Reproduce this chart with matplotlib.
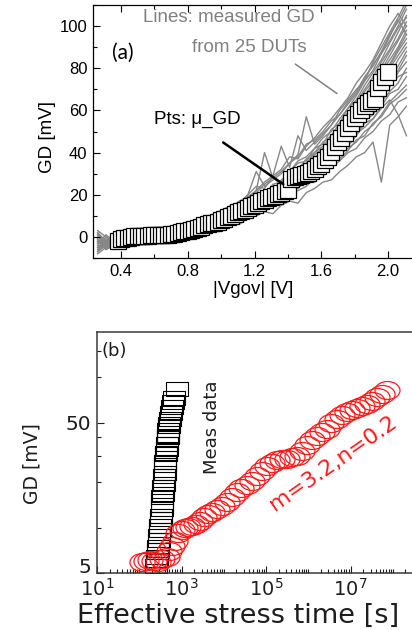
import numpy as np
import matplotlib
matplotlib.use("Agg")
import matplotlib.pyplot as plt
from matplotlib.path import Path
from matplotlib.transforms import Affine2D
from matplotlib.ticker import FixedLocator, MultipleLocator, NullFormatter, LogLocator

# ---- panel (a): GD vs |Vgov| ----
v_grid = [0.26, 0.31, 0.36, 0.41, 0.46, 0.51, 0.56, 0.61, 0.66, 0.71, 0.76, 0.81, 0.86,
          0.91, 0.96, 1.01, 1.06, 1.11, 1.16, 1.21, 1.26, 1.31, 1.36, 1.41, 1.46, 1.51,
          1.56, 1.61, 1.66, 1.71, 1.76, 1.81, 1.86, 1.91, 1.96, 2.01, 2.06, 2.11]

# measured GD of the 25 DUTs (mV), one row per device
dut_gd = [
    [-5, -2, -4, 0, -3, 1, -2, 2, -1, 3, 0, 2, 4, 2, 5, 4, 7, 6, 9, 10, 12, 11, 15, 17, 16, 21, 23, 26, 27, 31, 34, 38, 40, 45, 26, 53, 57, 62],
    [-1, -4, 0, -3, 2, -1, -3, 1, 3, 0, 2, 5, 1, 4, 6, 5, 8, 10, 9, 13, 12, 16, 18, 20, 22, 24, 28, 29, 33, 36, 40, 42, 47, 50, 55, 58, 64, 66],
    [-6, -3, -5, -1, -4, 0, 1, -2, 2, 0, 4, 1, 3, 6, 4, 8, 7, 10, 13, 11, 15, 17, 16, 22, 23, 27, 26, 31, 35, 37, 41, 46, 48, 54, 57, 63, 66, 70],
    [2, -2, -1, -4, 0, -2, 2, 0, -1, 3, 1, 4, 2, 5, 7, 6, 9, 8, 12, 14, 13, 18, 19, 21, 25, 26, 30, 33, 34, 39, 42, 45, 50, 53, 58, 64, 68, 72],
    [-3, 1, -2, -5, -1, 1, -1, 3, 0, 2, 5, 2, 6, 4, 5, 9, 8, 11, 10, 15, 16, 17, 21, 22, 26, 28, 30, 34, 37, 40, 44, 49, 52, 56, 61, 65, 58, 48],
    [-7, -4, -2, -6, -3, -1, 0, -3, 1, 2, 0, 3, 5, 3, 7, 6, 10, 9, 13, 12, 17, 16, 20, 24, 23, 28, 31, 33, 37, 42, 43, 48, 54, 56, 62, 68, 70, 76],
    [0, -3, 1, -1, -2, 2, -1, 1, 4, 1, 3, 2, 6, 5, 4, 8, 10, 9, 14, 13, 16, 19, 20, 23, 27, 29, 31, 36, 38, 41, 47, 49, 55, 58, 64, 69, 73, 80],
    [-4, -5, -3, 0, -2, -4, 1, 0, 2, -1, 4, 3, 2, 6, 8, 7, 8, 12, 11, 15, 17, 18, 22, 23, 28, 30, 32, 35, 39, 43, 46, 52, 55, 60, 65, 72, 76, 78],
    [3, 0, -2, -1, 1, -2, 0, 2, -1, 3, 2, 5, 3, 4, 7, 9, 8, 11, 13, 14, 18, 17, 22, 24, 26, 29, 33, 36, 38, 44, 47, 51, 57, 61, 66, 71, 78, 83],
    [-2, -6, -4, -2, -3, 0, -2, 1, 0, 2, 1, 3, 4, 7, 5, 8, 11, 10, 13, 16, 15, 20, 21, 25, 27, 31, 33, 37, 40, 45, 48, 54, 57, 63, 69, 73, 79, 86],
    [-8, -5, -3, -4, -1, -2, 1, -1, 3, 1, 0, 4, 5, 3, 6, 9, 8, 12, 11, 14, 17, 19, 21, 26, 28, 30, 35, 37, 42, 45, 50, 54, 59, 64, 70, 75, 81, 88],
    [1, -2, -1, -3, 0, -1, 2, 0, 1, 4, 2, 3, 6, 5, 8, 7, 10, 12, 13, 15, 18, 21, 22, 25, 29, 31, 34, 39, 41, 46, 51, 55, 61, 65, 71, 77, 84, 90],
    [-5, -3, -6, -2, -4, 0, -1, -2, 2, 1, 3, 2, 4, 6, 5, 9, 8, 11, 14, 13, 19, 20, 24, 25, 30, 32, 36, 40, 44, 47, 53, 57, 63, 67, 74, 80, 86, 92],
    [-1, -4, -2, 0, -3, -1, -2, 2, 0, 1, 3, 4, 3, 5, 8, 7, 10, 11, 15, 16, 17, 22, 23, 27, 29, 34, 36, 41, 43, 49, 53, 59, 63, 69, 75, 81, 88, 94],
    [-3, -1, -4, -2, 1, -3, 0, -1, 1, 3, 2, 4, 6, 4, 7, 9, 11, 10, 14, 17, 18, 21, 25, 27, 31, 33, 38, 40, 46, 49, 55, 59, 66, 70, 77, 82, 89, 96],
    [2, -3, 0, -5, -2, 0, -1, 1, -1, 2, 4, 3, 5, 7, 6, 8, 10, 13, 12, 16, 19, 21, 24, 28, 30, 35, 37, 42, 45, 51, 55, 61, 66, 72, 78, 84, 90, 98],
    [-6, -2, -3, -1, -4, -2, 1, 0, 2, 0, 3, 5, 4, 6, 9, 8, 11, 12, 15, 17, 19, 23, 24, 29, 32, 34, 39, 42, 47, 50, 57, 62, 67, 73, 79, 86, 93, 100],
    [-2, -5, -1, -3, 0, -2, 0, 2, 1, 3, 1, 4, 5, 8, 7, 10, 9, 13, 16, 15, 20, 22, 26, 28, 33, 35, 40, 43, 48, 52, 58, 63, 69, 74, 81, 88, 94, 102],
    [-4, 0, -3, -2, -1, 1, -2, 0, 3, 2, 4, 3, 6, 5, 9, 8, 12, 14, 13, 18, 21, 22, 27, 30, 32, 37, 40, 45, 48, 54, 59, 64, 70, 76, 83, 89, 97, 105],
    [-7, -3, -5, -1, -2, -3, 0, 1, 0, 2, 3, 5, 4, 7, 8, 11, 10, 14, 15, 19, 20, 25, 26, 31, 35, 36, 42, 44, 51, 54, 61, 65, 72, 78, 84, 92, 99, 104],
    [-3, -1, -2, 0, -1, 1, 3, 2, 1, 4, 3, 6, 5, 8, 10, 9, 14, 17, 16, 22, 40, 28, 25, 31, 36, 38, 42, 47, 50, 56, 61, 67, 74, 79, 87, 93, 100, 108],
    [-2, -4, 0, -2, 1, -1, 2, 0, 3, 2, 5, 4, 7, 6, 10, 12, 11, 16, 20, 31, 24, 27, 30, 35, 38, 44, 46, 50, 55, 58, 64, 69, 76, 81, 88, 96, 102, 110],
    [1, -3, -1, 2, -2, 0, 1, 3, 2, 5, 4, 6, 8, 7, 11, 13, 15, 14, 19, 22, 26, 29, 43, 33, 48, 41, 45, 49, 53, 60, 65, 70, 74, 83, 90, 97, 104, 112],
    [-5, -2, -4, -1, 0, -3, 1, 2, 0, 3, 6, 5, 7, 9, 8, 12, 14, 17, 19, 21, 25, 28, 31, 35, 39, 57, 44, 48, 53, 58, 63, 68, 75, 82, 87, 95, 103, 96],
    [-1, -6, -2, -4, -1, 0, -1, 3, 2, 4, 3, 7, 6, 9, 11, 10, 15, 16, 20, 24, 23, 29, 32, 38, 37, 43, 47, 52, 56, 61, 66, 73, 78, 84, 92, 100, 106, 100],
]

# mean GD (squares)
v_mean = [0.38, 0.40, 0.42, 0.44, 0.46, 0.48, 0.50, 0.52, 0.54, 0.56, 0.58, 0.60, 0.62, 0.64,
          0.66, 0.68, 0.70, 0.72, 0.74, 0.76, 0.78, 0.80, 0.82, 0.84, 0.86, 0.88, 0.90, 0.92,
          0.94, 0.96, 0.98, 1.00, 1.02, 1.04, 1.06, 1.08, 1.10, 1.12, 1.14, 1.16, 1.18, 1.20,
          1.22, 1.24, 1.26, 1.28, 1.30, 1.32, 1.34, 1.36, 1.38, 1.40, 1.42, 1.44, 1.46, 1.48,
          1.50, 1.52, 1.54, 1.56, 1.58, 1.60, 1.62, 1.64, 1.66, 1.68, 1.70, 1.72, 1.74, 1.76,
          1.78, 1.80, 1.82, 1.84, 1.86, 1.88, 1.90, 1.92, 1.94, 1.96, 1.98, 2.00]
gd_mean = [-2.1, -1.2, -0.6, -0.3, 0.0, 0.2, 0.3, 0.4, 0.5, 0.6, 0.7, 0.8, 0.9, 1.0, 1.0, 1.1, 1.2, 1.3,
           1.8, 2.5, 2.8, 3.0, 3.4, 3.9, 4.4, 4.9, 5.5, 6.0, 6.4, 6.8, 7.3, 7.8, 8.5, 9.3, 10.1, 10.9,
           11.6, 12.3, 13.0, 13.8, 14.6, 15.3, 16.0, 16.8, 17.6, 18.4, 19.0, 19.6, 20.2, 20.9, 21.6, 22.3,
           27.6, 28.3, 28.8, 29.2, 29.7, 30.4, 31.3, 32.3, 33.5, 34.8, 36.3, 38.1, 40.2, 42.5, 44.8, 47.1,
           49.4, 51.7, 54.0, 56.2, 58.3, 60.3, 62.0, 63.3, 64.3, 65.4, 70.6, 73.6, 76.0, 78.4]

# ---- panel (b): GD vs effective stress time ----
t_meas = [251, 260, 268, 275, 282, 290, 300, 309, 316, 324, 331, 339, 347, 355, 363, 372, 380, 389,
          398, 407, 417, 427, 437, 447, 457, 468, 479, 490, 501, 513, 537, 562, 589, 631, 676, 794]
gd_meas = [5.6, 6.1, 6.4, 7.1, 7.4, 8.3, 8.8, 9.7, 10.2, 11.5, 12.0, 13.4, 14.2, 15.9, 16.8, 18.7, 19.6, 22.0,
           23.1, 26.0, 27.4, 30.8, 31.6, 33.4, 36.2, 39.8, 41.0, 44.5, 47.3, 48.9, 52.6, 58.0, 63.1, 68.4, 73.0, 84.0]

t_fit = [115, 141, 178, 224, 282, 355, 447, 501, 603, 708, 832, 1000, 1202, 1445, 1738, 2188, 2754,
         3467, 4266, 5370, 6761, 8913, 1.17e4, 1.55e4, 2.04e4, 2.63e4, 3.47e4, 4.57e4, 6.03e4, 7.94e4,
         1.05e5, 1.35e5, 1.78e5, 2.34e5, 3.09e5, 4.07e5, 5.37e5, 7.08e5, 9.12e5, 1.20e6, 1.58e6, 2.09e6,
         2.75e6, 3.55e6, 4.68e6, 6.17e6, 8.13e6, 1.07e7, 1.41e7, 1.86e7, 2.40e7, 3.16e7, 4.17e7, 5.50e7, 7.24e7]
gd_fit = [5.9, 6.0, 6.1, 6.0, 5.95, 6.2, 6.4, 7.0, 7.6, 8.2, 9.2, 9.7, 10.0, 10.1, 10.3, 10.6, 11.0,
          11.7, 12.3, 12.8, 13.3, 14.0, 14.8, 16.0, 17.4, 18.3, 19.2, 20.6, 22.2, 24.0, 25.8, 27.0, 28.0,
          28.5, 28.7, 29.3, 30.2, 32.6, 35.2, 38.0, 41.0, 43.2, 45.6, 49.5, 53.0, 56.2, 58.9, 60.5, 62.5,
          64.4, 66.8, 70.0, 74.0, 77.8, 82.0]
x_ticks_b = [1e1, 1e3, 1e5, 1e7]
x_labels_b = [r'$10^{1}$', r'$10^{3}$', r'$10^{5}$', r'$10^{7}$']

W, H = 412, 630
fig = plt.figure(figsize=(W / 100, H / 100), dpi=100)

# ---------- (a) ----------
plt.rcParams['font.family'] = ['Liberation Sans', 'DejaVu Sans']
ax1 = fig.add_axes([93 / W, 1 - 258 / H, 336.8 / W, 253 / H])
for row in dut_gd:
    ax1.plot(v_grid, row, color='#878787', lw=1.0, zorder=1)
ax1.plot(v_mean, gd_mean, ls='none', marker='s', ms=11.5, mfc='white', mec='black',
         mew=0.9, zorder=3)
ax1.set_xlim(0.2322, 2.25)
ax1.set_ylim(-10, 110)
ax1.xaxis.set_major_locator(MultipleLocator(0.4))
ax1.xaxis.set_minor_locator(MultipleLocator(0.2))
ax1.yaxis.set_major_locator(MultipleLocator(20))
ax1.yaxis.set_minor_locator(MultipleLocator(10))
ax1.tick_params(which='both', direction='in', top=True, right=True, labelsize=12, width=0.8)
ax1.tick_params(which='major', length=5, pad=4)
ax1.tick_params(which='minor', length=3)
for s in ax1.spines.values():
    s.set_linewidth(0.9)
ax1.set_xlabel('|Vgov| [V]', fontsize=13.5, va='center')
ax1.xaxis.set_label_coords((253 - 93) / 336.8, (258 - 290) / 253)
ax1.set_ylabel('GD [mV]', fontsize=13.5, va='center')
ax1.yaxis.set_label_coords((47 - 93) / 336.8, (258 - 137) / 253)

ax1.text(0.412, 87.2, '(a)', fontsize=15, family=['Lato', 'DejaVu Sans'],
         ha='center', va='center')
ax1.text(1.044, 104.3, 'Lines: measured GD', fontsize=13.5, color='#808080',
         ha='center', va='center')
ax1.text(1.167, 89.7, 'from 25 DUTs', fontsize=13.5, color='#808080',
         ha='center', va='center')
ax1.text(0.855, 55.5, 'Pts: μ_GD', fontsize=13.5, ha='center', va='center')
ax1.annotate('', xy=(1.372, 25), xytext=(1.012, 44.8),
             arrowprops=dict(arrowstyle='-', color='black', lw=1.8,
                             shrinkA=0, shrinkB=0), zorder=4)
ax1.annotate('', xy=(1.694, 68), xytext=(1.444, 82),
             arrowprops=dict(arrowstyle='-', color='#808080', lw=1.1,
                             shrinkA=0, shrinkB=0), zorder=4)

# ---------- (b) ----------
fam_b = ['DejaVu Sans']
txt_b = '#1e1e1e'
ax2 = fig.add_axes([97 / W, 1 - 573 / H, 338 / W, 241 / H])
box = Path([(-1, -0.57), (1, -0.57), (1, 0.57), (-1, 0.57), (-1, -0.57)],
           [Path.MOVETO, Path.LINETO, Path.LINETO, Path.LINETO, Path.CLOSEPOLY])
ellipse = Path.unit_circle().transformed(Affine2D().scale(1, 0.72))
ax2.plot(t_meas, gd_meas, ls='none', marker=box, ms=16.5, mfc='none', mec='black', mew=0.8)
ax2.plot(t_fit, gd_fit, ls='none', marker=ellipse, ms=18, mfc='none', mec='#ff1a1a', mew=0.9)
ax2.set_xscale('log')
ax2.set_yscale('log')
ax2.set_xlim(10, 1e9)
ax2.set_ylim(5, 200)
ax2.xaxis.set_major_locator(FixedLocator(x_ticks_b))
ax2.set_xticklabels(x_labels_b)
ax2.xaxis.set_minor_locator(LogLocator(base=10, subs=np.arange(1, 10), numticks=100))
ax2.xaxis.set_minor_formatter(NullFormatter())
ax2.yaxis.set_major_locator(FixedLocator([5, 50]))
ax2.set_yticklabels(['5', '50'])
ax2.yaxis.set_minor_locator(FixedLocator([10, 20, 30, 40, 100, 150]))
ax2.yaxis.set_minor_formatter(NullFormatter())
ax2.tick_params(which='both', direction='in', top=False, right=False, width=0.8, colors=txt_b)
ax2.tick_params(which='major', length=5)
ax2.tick_params(which='minor', length=3)
ax2.tick_params(axis='x', labelsize=14, pad=3.5)
ax2.tick_params(axis='y', labelsize=14.5, pad=4)
for lab in ax2.get_xticklabels() + ax2.get_yticklabels():
    lab.set_family(fam_b)
# the lowest y label sits on its baseline so it clears the 10^1 label below it
ax2.yaxis.get_major_ticks()[0].label1.set_va('baseline')
for s in ax2.spines.values():
    s.set_linewidth(1.1)
    s.set_color('#3a3a3a')
ax2.set_xlabel('Effective stress time [s]', fontsize=19.5, family=fam_b, color=txt_b, va='center')
ax2.xaxis.set_label_coords((238 - 97) / 338, (573 - 616) / 241)
ax2.set_ylabel('GD [mV]', fontsize=13.5, family=fam_b, color=txt_b, va='center')
ax2.yaxis.set_label_coords((32 - 97) / 338, (573 - 464) / 241)

ax2.text((114 - 97) / 338, (573 - 351) / 241, '(b)', transform=ax2.transAxes,
         fontsize=13, family=fam_b, color=txt_b, ha='center', va='center')
ax2.text((212 - 97) / 338, (573 - 427) / 241, 'Meas data', transform=ax2.transAxes,
         fontsize=13, family=fam_b, color=txt_b,
         rotation=90, ha='center', va='center', rotation_mode='anchor')
ax2.text((333 - 97) / 338, (573 - 463) / 241, 'm=3.2,n=0.2', transform=ax2.transAxes,
         fontsize=16, family=fam_b, color='#ff1a1a', rotation=35,
         ha='center', va='center', rotation_mode='anchor')

fig.savefig('out.png', dpi=100)
